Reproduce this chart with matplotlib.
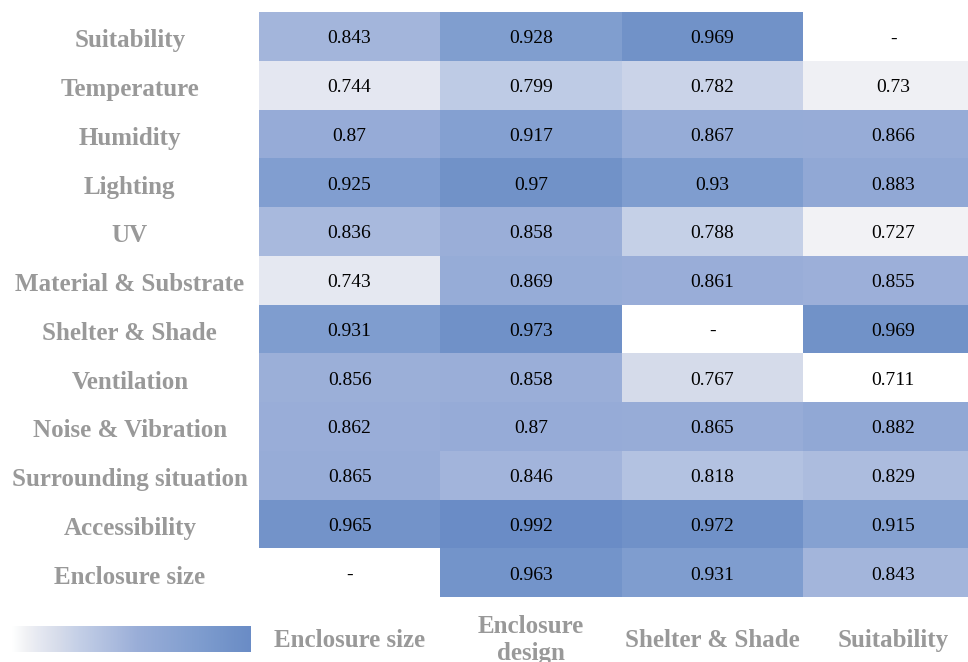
import numpy as np
import matplotlib
matplotlib.use("Agg")
import matplotlib.pyplot as plt
from matplotlib.colors import LinearSegmentedColormap, Normalize
from matplotlib.transforms import ScaledTranslation

rows = ["Suitability", "Temperature", "Humidity", "Lighting", "UV",
        "Material & Substrate", "Shelter & Shade", "Ventilation",
        "Noise & Vibration", "Surrounding situation", "Accessibility",
        "Enclosure size"]
cols = ["Enclosure size", "Enclosure\ndesign", "Shelter & Shade", "Suitability"]

enclosure_size = [0.843, 0.744, 0.87, 0.925, 0.836, 0.743, 0.931, 0.856, 0.862, 0.865, 0.965, np.nan]
enclosure_design = [0.928, 0.799, 0.917, 0.97, 0.858, 0.869, 0.973, 0.858, 0.87, 0.846, 0.992, 0.963]
shelter_shade = [0.969, 0.782, 0.867, 0.93, 0.788, 0.861, np.nan, 0.767, 0.865, 0.818, 0.972, 0.931]
suitability = [np.nan, 0.73, 0.866, 0.883, 0.727, 0.855, 0.969, 0.711, 0.882, 0.829, 0.915, 0.843]

data = np.array([enclosure_size, enclosure_design, shelter_shade, suitability]).T

cmap = LinearSegmentedColormap.from_list("bl", [
    (0.0, "#ffffff"), (0.057, "#f1f2f5"), (0.114, "#e5e8f1"), (0.199, "#d5dbea"),
    (0.274, "#c5d0e7"), (0.445, "#a8b9dd"), (0.523, "#9aaed8"), (0.783, "#7f9dcf"),
    (0.932, "#7091c8"), (1.0, "#6a8cc6")])
cmap.set_bad("white")
vmin, vmax = np.nanmin(data), np.nanmax(data)
norm = Normalize(vmin, vmax)

W, H = 968, 662
fig = plt.figure(figsize=(W / 100, H / 100), dpi=100)
ax = fig.add_axes([259 / W, 1 - 597 / H, (984 - 259) / W, (597 - 12) / H])
masked = np.ma.masked_invalid(data)
ax.pcolormesh(masked, cmap=cmap, norm=norm, edgecolors="none")
ax.set_xlim(0, 4)
ax.set_ylim(len(rows), 0)
for s in ax.spines.values():
    s.set_visible(False)

down = ScaledTranslation(0, -2.5 / 100, fig.dpi_scale_trans)
for i in range(len(rows)):
    for j in range(len(cols)):
        v = data[i, j]
        txt = "-" if np.isnan(v) else f"{v:g}"
        ax.text(j + 0.5, i + 0.5, txt, ha="center", va="center",
                fontsize=14, family="Liberation Serif", color="black",
                transform=ax.transData + down)

ax.set_yticks(np.arange(len(rows)) + 0.5)
ax.set_yticklabels(rows, ha="center", fontsize=18, family="Liberation Serif",
                   fontweight="bold", color="#999999")
ax.tick_params(axis="y", length=0, pad=93)
for lbl in ax.get_yticklabels():
    lbl.set_transform(lbl.get_transform() + ScaledTranslation(0, -2 / 100, fig.dpi_scale_trans))
ax.set_xticks(np.arange(len(cols)) + 0.5)
ax.set_xticklabels(cols, va="center", fontsize=18, family="Liberation Serif",
                   fontweight="bold", color="#999999", linespacing=1.25)
ax.tick_params(axis="x", length=0, pad=31)

cax = fig.add_axes([12 / W, 1 - 652 / H, (250 - 12) / W, 26 / H])
grad = np.linspace(0, 1, 256)[None, :]
cax.imshow(grad, aspect="auto", cmap=cmap, extent=[0, 1, 0, 1])
cax.set_axis_off()

fig.savefig("out.png", dpi=100)
